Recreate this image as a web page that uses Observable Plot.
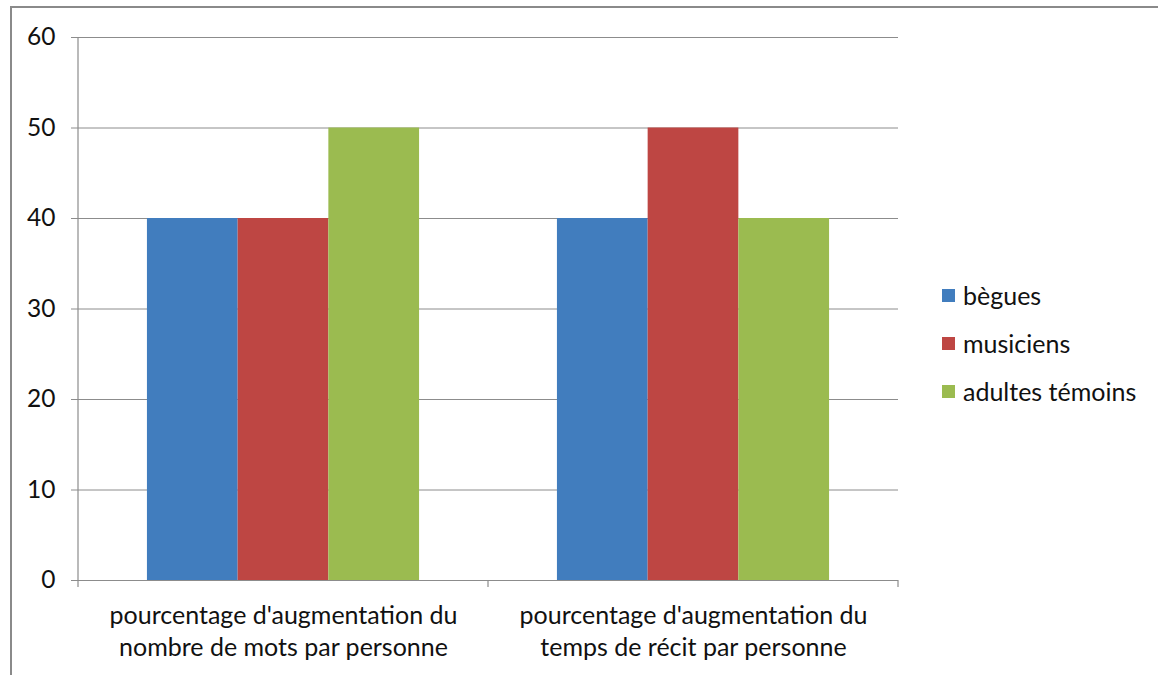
<!DOCTYPE html>
<html><head><meta charset="utf-8">
<script src="https://cdn.jsdelivr.net/npm/d3@7"></script>
<script src="https://cdn.jsdelivr.net/npm/@observablehq/plot@0.6"></script>
<style>
html,body{margin:0;padding:0;background:#fff;}
#wrap{position:relative;width:1158px;height:675px;overflow:hidden;font-family:Lato,sans-serif;}
.bline{position:absolute;background:#8a8a8a;z-index:5;}
#legend{position:absolute;left:942px;top:283px;font-size:25px;color:#111;z-index:5;}
.item{position:absolute;left:0;white-space:nowrap;display:flex;align-items:center;line-height:1;}
.sw{width:13px;height:13px;margin-right:8px;}
</style></head>
<body><div id="wrap">
<div class="bline" style="left:10px;top:6px;width:1148px;height:2px"></div>
<div class="bline" style="left:10px;top:6px;width:2px;height:669px"></div>
<div id="legend"></div></div>
<script>
const categories = ["pourcentage d'augmentation du\nnombre de mots par personne", "pourcentage d'augmentation du\ntemps de récit par personne"];
const series = ["bègues", "musiciens", "adultes témoins"];
const colors = ["#417DBE", "#BE4643", "#9BBB50"];
const values = {
  "bègues": [40, 40],
  "musiciens": [40, 50],
  "adultes témoins": [50, 40]
};
const yTicks = [0, 10, 20, 30, 40, 50, 60];

const data = [];
categories.forEach((c, i) => series.forEach(s => data.push({cat: c, series: s, value: values[s][i]})));

const grid = "#8c8c8c";
const plot = Plot.plot({
  width: 1158, height: 675,
  marginLeft: 78, marginRight: 260, marginTop: 37, marginBottom: 95,
  style: {fontFamily: "Lato, sans-serif", fontSize: "24.5px", color: "#111", background: "transparent"},
  fx: {domain: categories, paddingInner: 0, paddingOuter: 0, round: false, label: null},
  x: {domain: series, paddingInner: 0, paddingOuter: 0.76, round: false, axis: null},
  y: {domain: [0, 60], ticks: yTicks, label: null},
  color: {domain: series, range: colors},
  marks: [
    Plot.ruleY(yTicks.filter(d => d > 0), {stroke: grid, strokeWidth: 1}),
    Plot.barY(data, {fx: "cat", x: "series", y: "value", fill: "series"}),
    Plot.ruleY([0], {stroke: grid, strokeWidth: 1.2}),
    Plot.axisY({ticks: yTicks, tickSize: 7, tickPadding: 16, stroke: grid, fontSize: 24.5, label: null}),
    Plot.axisFx({anchor: "bottom", tickSize: 0, tickPadding: 21, fontSize: 25, lineHeight: 1.28, label: null})
  ]
});
document.getElementById("wrap").prepend(plot);
plot.style.position = "absolute"; plot.style.left = "0"; plot.style.top = "0";

// y axis line and category boundary ticks from the library scales
const fx = plot.scale("fx"), y = plot.scale("y");
const svg = d3.select(plot);
const y0 = y.apply(0), yTop = y.apply(60);
const edges = categories.map(c => fx.apply(c)).concat([fx.apply(categories[categories.length - 1]) + fx.bandwidth]);
svg.append("line").attr("x1", edges[0]).attr("x2", edges[0]).attr("y1", yTop).attr("y2", y0 + 7).attr("stroke", grid).attr("stroke-width", 1.2);
edges.slice(1).forEach(e => svg.append("line").attr("x1", e).attr("x2", e).attr("y1", y0).attr("y2", y0 + 7).attr("stroke", grid).attr("stroke-width", 1.2));

const leg = document.getElementById("legend");
series.forEach((s, i) => {
  const it = document.createElement("div");
  it.className = "item";
  it.style.top = (i * 48) + "px";
  it.innerHTML = `<span class="sw" style="background:${colors[i]}"></span><span>${s}</span>`;
  leg.appendChild(it);
});
</script></body></html>
